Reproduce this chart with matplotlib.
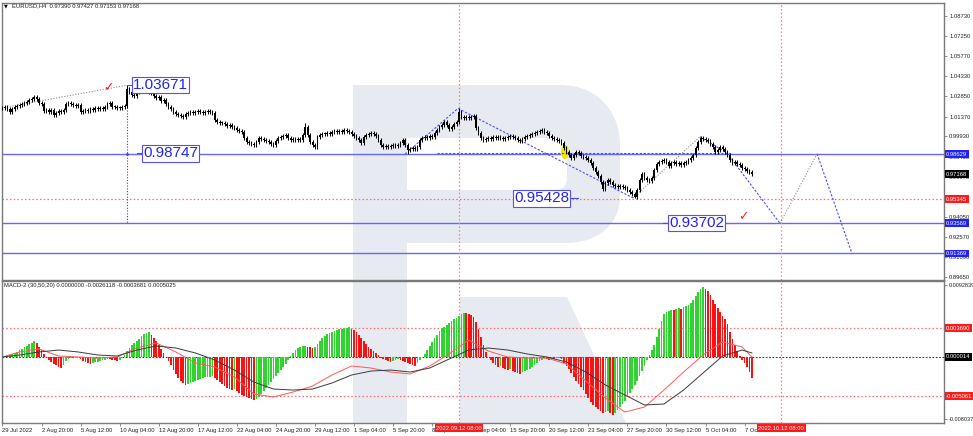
import matplotlib
matplotlib.use('Agg')
import matplotlib.pyplot as plt
import matplotlib.transforms as mtransforms
from matplotlib.patches import PathPatch, Ellipse
from matplotlib.path import Path
import numpy as np

plt.rcParams['font.family'] = ['Liberation Sans', 'DejaVu Sans']

# EURUSD H4 closes, bar 1 = 29 Jul 2022 00:00
closes = [
    1.0200, 1.0208, 1.0193, 1.0171, 1.0193, 1.0208, 1.0215, 1.0222, 1.0230, 1.0237,
    1.0244, 1.0259, 1.0266, 1.0281, 1.0266, 1.0237, 1.0230, 1.0179, 1.0186, 1.0171,
    1.0186, 1.0149, 1.0164, 1.0179, 1.0171, 1.0186, 1.0230, 1.0237, 1.0230, 1.0222,
    1.0215, 1.0222, 1.0171, 1.0179, 1.0186, 1.0179, 1.0193, 1.0186, 1.0200, 1.0193,
    1.0200, 1.0193, 1.0208, 1.0230, 1.0237, 1.0208, 1.0208, 1.0200, 1.0200, 1.0208,
    1.0215, 1.0339, 1.0317, 1.0296, 1.0288, 1.0317, 1.0332, 1.0325, 1.0339, 1.0325,
    1.0317, 1.0310, 1.0288, 1.0274, 1.0281, 1.0252, 1.0259, 1.0230, 1.0208, 1.0193,
    1.0171, 1.0157, 1.0149, 1.0142, 1.0135, 1.0157, 1.0164, 1.0171, 1.0164, 1.0171,
    1.0179, 1.0171, 1.0164, 1.0171, 1.0179, 1.0171, 1.0164, 1.0113, 1.0098, 1.0091,
    1.0091, 1.0084, 1.0069, 1.0076, 1.0062, 1.0054, 1.0040, 1.0032, 1.0025, 0.9981,
    0.9952, 0.9945, 0.9937, 0.9930, 0.9952, 0.9981, 0.9974, 0.9967, 0.9959, 0.9952,
    0.9937, 0.9930, 0.9959, 0.9981, 0.9989, 0.9996, 1.0003, 0.9981, 0.9967, 0.9974,
    0.9967, 0.9974, 0.9967, 1.0003, 1.0062, 1.0003, 0.9952, 0.9930, 0.9916, 0.9989,
    1.0003, 1.0010, 1.0010, 1.0018, 1.0010, 1.0025, 1.0032, 1.0025, 1.0032, 1.0025,
    1.0040, 1.0032, 1.0025, 1.0010, 0.9996, 0.9981, 0.9967, 0.9945, 0.9989, 1.0003,
    1.0010, 1.0018, 1.0010, 0.9996, 0.9967, 0.9930, 0.9916, 0.9923, 0.9916, 0.9923,
    0.9930, 0.9923, 0.9930, 0.9945, 0.9967, 0.9930, 0.9894, 0.9901, 0.9908, 0.9901,
    0.9916, 0.9967, 0.9981, 0.9989, 0.9981, 0.9996, 0.9989, 1.0018, 1.0040, 1.0062,
    1.0076, 1.0098, 1.0076, 1.0047, 1.0062, 1.0084, 1.0098, 1.0171, 1.0135, 1.0127,
    1.0135, 1.0127, 1.0135, 1.0142, 1.0054, 1.0018, 0.9981, 0.9967, 0.9974, 0.9981,
    0.9974, 0.9989, 0.9981, 0.9989, 0.9981, 0.9974, 0.9981, 0.9989, 0.9996, 0.9989,
    0.9981, 0.9967, 0.9959, 0.9974, 0.9989, 0.9996, 1.0003, 1.0010, 1.0018, 1.0025,
    1.0032, 1.0040, 1.0025, 1.0018, 0.9996, 0.9981, 0.9974, 0.9967, 0.9959, 0.9945,
    0.9908, 0.9879, 0.9857, 0.9835, 0.9857, 0.9879, 0.9872, 0.9850, 0.9842, 0.9835,
    0.9820, 0.9798, 0.9762, 0.9733, 0.9703, 0.9660, 0.9608, 0.9652, 0.9674, 0.9660,
    0.9638, 0.9630, 0.9623, 0.9630, 0.9623, 0.9616, 0.9601, 0.9587, 0.9572, 0.9550,
    0.9601, 0.9674, 0.9718, 0.9689, 0.9674, 0.9667, 0.9689, 0.9747, 0.9791, 0.9806,
    0.9813, 0.9820, 0.9806, 0.9777, 0.9798, 0.9806, 0.9791, 0.9798, 0.9784, 0.9798,
    0.9806, 0.9820, 0.9835, 0.9857, 0.9908, 0.9952, 0.9981, 0.9974, 0.9967, 0.9959,
    0.9937, 0.9916, 0.9879, 0.9894, 0.9916, 0.9901, 0.9879, 0.9857, 0.9820, 0.9798,
    0.9806, 0.9791, 0.9784, 0.9762, 0.9755, 0.9740, 0.9733, 0.9717,
]
wick = 0.0012
high_spikes = {52: 1.0367, 125: 1.0091, 188: 1.0197, 287: 0.9995}
low_spikes = {167: 0.9865, 260: 0.95428}

# MACD-2 histogram, units of 1e-4
hist = [
    1.3, 1.3, 2.6, 2.6, 3.9, 5.2, 6.5, 9.0, 10.3, 12.9, 14.2, 16.8, 18.1, 20.6,
    18.1, 12.9, 9.0, 3.9, -1.3, -3.9, -6.5, -9.0, -10.3, -12.9, -14.2, -10.3, -5.2,
    -2.6, -1.3, -1.9, -1.3, -0.6, -2.6, -5.2, -6.5, -7.7, -8.4,
    -7.1, -6.5, -5.8, -5.2, -4.5, -3.9, -2.6, -3.2, -3.9, -4.5, -5.2, -3.9, -1.3,
    2.6, 7.7, 11.6, 15.5, 18.1, 20.6, 23.2, 27.1, 29.7, 31.0, 32.3,
    28.4, 24.5, 20.6, 15.5, 10.3, 5.2, 0.6, -5.2, -10.3, -16.8, -21.9, -27.1, -31.0, -33.5, -36.1,
    -34.8, -33.5, -32.3, -31.0, -29.7, -28.4, -27.1, -26.4, -25.8, -25.2, -24.5,
    -27.1, -29.7, -32.3, -34.8, -37.4, -40.0, -41.3, -42.6, -41.3,
    -43.9, -46.4, -49.0, -50.3, -51.6, -52.9, -54.2, -55.5,
    -54.2, -51.6, -47.7, -43.9, -40.0, -36.1, -32.3, -28.4, -24.5, -20.6, -16.8, -12.9, -9.0, -3.9,
    1.3, 5.2, 9.0, 11.6, 12.9, 14.2, 14.8, 13.5, 12.3, 11.6,
    12.9, 16.8, 20.6, 24.5, 27.1, 29.7, 31.0, 32.3, 33.5, 34.8, 35.5, 36.1, 36.8, 37.4, 38.1,
    36.1, 34.8, 32.3, 28.4, 24.5, 20.6, 16.8, 12.9, 10.3, 7.7, 5.2, 2.6,
    -1.3, -2.6, -3.9, -5.2, -6.5, -5.2, -3.9, -2.6, -3.9, -5.2, -6.5, -7.7, -9.0, -10.3, -11.0,
    -7.7, -3.9, 0.0, 3.9, 9.0, 14.2, 19.4, 24.5, 28.4, 33.5, 37.4,
    38.7, 41.3, 43.9, 46.4, 49.0, 50.3, 52.9, 55.5, 56.8, 56.1, 55.5, 54.2, 51.6,
    45.2, 36.1, 25.8, 15.5, 6.5, 0.0,
    -3.9, -7.7, -10.3, -12.9, -11.6, -14.2, -15.5, -16.8, -15.5, -18.1, -19.4, -20.6, -21.3,
    -19.4, -18.1, -16.8, -15.5, -12.9, -10.3, -7.7, -5.2, -3.9,
    -2.6, -3.2, -3.9, -2.6, -3.2, -1.9, -1.3, -2.6,
    -7.7, -11.6, -15.5, -20.6, -25.8, -31.0, -34.8, -38.7, -42.6, -47.7, -52.9, -58.1, -61.9, -64.5,
    -67.1, -69.7, -72.2, -71.0, -69.7, -72.2, -74.8,
    -72.2, -68.4, -64.5, -60.6, -56.8, -51.6, -46.4, -41.3, -36.1, -31.0, -24.5, -18.1, -11.6, -3.9,
    2.6, 9.0, 15.5, 25.8, 36.1, 46.4, 55.5,
    58.1, 59.3, 60.6, 60.0, 61.9, 62.6, 61.9, 64.5, 65.8, 67.1, 69.7,
    73.5, 78.7, 83.9, 87.7, 90.3,
    87.7, 85.1, 80.0, 73.5, 68.4, 63.2, 58.1, 52.9, 49.0, 42.6, 32.3, 23.2, 15.5, 7.7, 1.3,
    -3.9, -7.7, -12.9, -19.4, -27.1,
]

# MACD lines, units of 1e-4, sampled every 8 bars
line_idx = [1, 8, 16, 24, 32, 40, 48, 56, 64, 72, 80, 88, 96, 104, 112, 120, 128, 136, 144, 152,
            160, 168, 176, 184, 192, 200, 208, 216, 224, 232, 240, 248, 256, 264, 272, 280, 288,
            296, 304, 308]
red_line = [0, 6.5, 10.3, 1.3, 0, -1.3, 0, 11.6, 18.1, 6.5, -7.7, -12.9, -25.8, -47.7, -51.6,
            -45.2, -37.4, -23.2, -11.6, -14.2, -19.4, -21.9, -11.6, 3.9, 21.9, 7.7, 0, -1.3,
            -1.3, -9.0, -31.0, -52.9, -71.0, -64.5, -42.6, -19.4, 2.6, 19.4, 12.9, 0]
black_line = [0, 2.6, 6.5, 9.0, 6.5, 2.6, 1.3, 9.0, 14.2, 11.6, 5.2, -3.9, -16.8, -32.3, -41.3,
              -42.6, -41.3, -33.5, -23.2, -18.1, -16.8, -19.4, -14.2, -2.6, 9.0, 11.6, 9.0, 3.9,
              0, -6.5, -19.4, -36.1, -49.0, -61.9, -60.6, -42.6, -20.6, 1.3, 9.0, 5.2]

# levels
blue_levels = [0.98629, 0.93569, 0.91369]
red_level = 0.95345
last_price = 0.97168
macd_levels = [0.00369, -0.00506]
macd_zero = 0.000014
vlines_idx = [188, 320]
vline_tags = ['2022.09.12 08:00', '2022.10.12 08:00']

price_ticks = [1.0873, 1.0725, 1.0577, 1.0433, 1.0285, 1.0137, 0.9993, 0.9845, 0.9697,
               0.9549, 0.9405, 0.9257, 0.9109, 0.8965]
time_idx = [1, 17, 33, 49, 65, 81, 97, 113, 129, 145, 161, 177, 193, 209, 225, 241, 257, 273, 289, 305]
time_labels = ['29 Jul 2022', '2 Aug 20:00', '5 Aug 12:00', '10 Aug 04:00', '12 Aug 20:00',
               '17 Aug 12:00', '22 Aug 04:00', '24 Aug 20:00', '29 Aug 12:00', '1 Sep 04:00',
               '5 Sep 20:00', '8 Sep 12:00', '13 Sep 04:00', '15 Sep 20:00', '20 Sep 12:00',
               '23 Sep 04:00', '27 Sep 20:00', '30 Sep 12:00', '5 Oct 04:00', '7 Oct 20:00']

# wave markup
gray_segs = [[(2.8, 1.0208), (52, 1.0367)],
             [(259.3, 0.95428), (286.7, 0.9990)],
             [(319.5, 0.9357), (334.7, 0.9865)]]
blue_segs = [[(165.9, 0.9864), (187.6, 1.0197), (259.3, 0.95428)],
             [(286.7, 0.9990), (297.8, 0.9872), (319.5, 0.9357)],
             [(334.7, 0.9865), (349, 0.9137)],
             [(179, 0.9873), (299, 0.9873)]]
value_labels = [('1.03671', 54.5, 1.0367, 'left'), ('0.98747', 58.6, 0.9868, 'left'),
                ('0.95428', 233.1, 0.9540, 'right'), ('0.93702', 274.0, 0.9361, 'left')]
checks = [(44.2, 1.0350), (304.5, 0.9404)]

W, H = 973, 436
fig = plt.figure(figsize=(W / 100, H / 100), dpi=100)
fig.patch.set_facecolor('white')


def px_axes(x0, y0, x1, y1):
    return fig.add_axes([x0 / W, 1 - y1 / H, (x1 - x0) / W, (y1 - y0) / H])


ax1 = px_axes(2, 3, 944, 280)
ax2 = px_axes(2, 281, 944, 423)
for ax in (ax1, ax2):
    ax.set_facecolor('none')
    ax.set_xlim(0.8, 386.7)
    for s in ax.spines.values():
        s.set_color('#7a7a7a')
        s.set_linewidth(1.0)
ax1.set_ylim(0.8943, 1.0968)
ax2.set_ylim(-0.00851, 0.00980)

# watermark "R", drawn in pixel space behind the axes
pix = mtransforms.Affine2D().scale(1 / W, -1 / H).translate(0, 1) + fig.transFigure
M, L, C, Z = Path.MOVETO, Path.LINETO, Path.CURVE4, Path.CLOSEPOLY
verts = [(353, 85), (560, 85), (598, 85), (620, 112), (620, 145), (620, 195),
         (620, 225), (598, 243), (565, 243), (407, 243), (407, 423), (353, 423), (353, 85),
         (407, 138), (407, 190), (555, 190), (563, 190), (567, 185), (567, 178), (567, 150),
         (567, 143), (563, 138), (555, 138), (407, 138)]
codes = [M, L, C, C, C, L, C, C, C, L, L, L, Z,
         M, L, L, C, C, C, L, C, C, C, Z]
wm = '#e7ebf1'
fig.patches.append(PathPatch(Path(verts, codes), fc=wm, ec='none', transform=pix, zorder=-5))
leg = Path([(460, 297), (567, 297), (626, 423), (460, 423), (460, 297)], [M, L, L, L, Z])
fig.patches.append(PathPatch(leg, fc=wm, ec='none', transform=pix, zorder=-5))

# price panel
idx = np.arange(1, len(closes) + 1)
c = np.array(closes)
o = np.concatenate([[c[0]], c[:-1]])
hi = np.maximum(o, c) + wick
lo = np.minimum(o, c) - wick
for k, v in high_spikes.items():
    hi[k - 1] = v
for k, v in low_spikes.items():
    lo[k - 1] = v

for y in blue_levels:
    ax1.axhline(y, color='#6666ff', lw=1.0, zorder=2)
ax1.axhline(red_level, color='#ff6a6a', lw=0.9, ls=(0, (1.2, 1.8)), zorder=2)
for xv in vlines_idx:
    ax1.axvline(xv, color='#ff7a7a', lw=0.9, ls=(0, (1.2, 1.8)), zorder=2)
    ax2.axvline(xv, color='#ff7a7a', lw=0.9, ls=(0, (1.2, 1.8)), zorder=2)

ax1.add_patch(Ellipse((231.4, 0.9879), 3.4, 0.0105, fc='#f2e600', ec='none', zorder=3))

ax1.vlines(idx, lo, hi, color='black', lw=0.75, zorder=4)
body = np.maximum(np.abs(c - o), 0.0005)
ax1.bar(idx, body, bottom=np.minimum(o, c), width=0.7, color='black', lw=0, zorder=4)

ax1.plot([52, 52], [1.0367, 0.9357], color='#3c3cff', lw=0.8, ls=(0, (1, 1.5)), zorder=3)
ax1.plot([52], [0.9864], marker='.', ms=2, color='#3c3cff', zorder=3)
for seg in gray_segs:
    xs, ys = zip(*seg)
    ax1.plot(xs, ys, color='#8c8c8c', lw=0.8, ls=(0, (1, 1.5)), zorder=3)
for seg in blue_segs:
    xs, ys = zip(*seg)
    ax1.plot(xs, ys, color='#4848ff', lw=0.8, ls=(0, (2, 1.5)), zorder=3)

for txt, xv, yv, side in value_labels:
    if side == 'left':
        ax1.plot([xv - 2.4, xv], [yv, yv], color='#4848ff', lw=0.8, zorder=5)
    else:
        ax1.plot([xv, xv + 3.6], [yv, yv], color='#4848ff', lw=0.8, zorder=5)
    ax1.text(xv, yv, txt, ha=side, va='center', fontsize=11, color='#2424f0', zorder=6,
             bbox=dict(boxstyle='square,pad=0.08', fc='white', ec='#5050ff', lw=0.8))
for xv, yv in checks:
    ax1.text(xv, yv, '\u2713', ha='center', va='center', fontsize=9, color='#ff2020',
             family='DejaVu Sans', zorder=6)

ax1.yaxis.tick_right()
ax1.set_yticks(price_ticks)
ax1.set_yticklabels(['%.5f' % p for p in price_ticks])
ax1.tick_params(axis='y', length=2.5, width=0.6, pad=1.2, labelsize=4.2, colors='#7a7a7a',
                labelcolor='#222222')
ax1.set_xticks([])


def tag(ax, y, text, fc):
    ax.text(1.0022, y, text, transform=ax.get_yaxis_transform(), ha='left', va='center',
            fontsize=4.2, color='white', clip_on=False, zorder=10,
            bbox=dict(boxstyle='square,pad=0.25', fc=fc, ec='none'))


tag(ax1, blue_levels[0], '%.5f' % blue_levels[0], '#2020ff')
tag(ax1, last_price, '%.5f' % last_price, 'black')
tag(ax1, red_level, '%.5f' % red_level, '#ff1a1a')
tag(ax1, blue_levels[1], '%.5f' % blue_levels[1], '#2020ff')
tag(ax1, blue_levels[2], '%.5f' % blue_levels[2], '#2020ff')

# MACD panel
hv = np.array(hist) * 1e-4
cols = ['#2fd42f' if k == 0 or hv[k] >= hv[k - 1] else '#ff1010' for k in range(len(hv))]
ax2.bar(idx, hv, width=0.7, color=cols, lw=0, zorder=3)
ax2.axhline(macd_zero, color='#333333', lw=0.8, ls=(0, (1.5, 1.5)), zorder=2)
for y in macd_levels:
    ax2.axhline(y, color='#ff6a6a', lw=0.9, ls=(0, (1.2, 1.8)), zorder=2)
ax2.plot(line_idx, np.array(red_line) * 1e-4, color='#ff5a5a', lw=0.7, zorder=4)
ax2.plot(line_idx, np.array(black_line) * 1e-4, color='#3a3a3a', lw=0.7, zorder=4)

ax2.yaxis.tick_right()
ax2.set_yticks([0.0092839, -0.008037])
ax2.set_yticklabels(['0.0092839', '-0.008037'])
ax2.tick_params(axis='y', length=2.5, width=0.6, pad=1.2, labelsize=4.0, colors='#7a7a7a',
                labelcolor='#222222')
tag(ax2, macd_levels[0], '0.003690', '#ff1a1a')
tag(ax2, macd_zero, '0.000014', 'black')
tag(ax2, macd_levels[1], '-0.005061', '#ff1a1a')

ax2.set_xticks(time_idx)
ax2.set_xticklabels(time_labels)
ax2.tick_params(axis='x', length=2.5, width=0.6, pad=1.0, labelsize=4.2, colors='#7a7a7a',
                labelcolor='#222222')
for lab in ax2.get_xticklabels():
    lab.set_ha('left')
for xv, txt in zip(vlines_idx, vline_tags):
    ax2.text(xv, -0.037, txt, transform=ax2.get_xaxis_transform(), ha='center', va='center',
             fontsize=4.2, color='white', clip_on=False, zorder=10,
             bbox=dict(boxstyle='square,pad=0.25', fc='#ff1a1a', ec='none'))

fig.text(4 / W, 1 - 6 / H, '\u25bc', fontsize=3.5, va='center', ha='left', family='DejaVu Sans')
fig.text(12 / W, 1 - 6 / H, 'EURUSD,H4  0.97390 0.97427 0.97153 0.97168', fontsize=4.2,
         va='center', ha='left', color='#222222')
fig.text(4 / W, 1 - 286 / H, 'MACD-2 (30,50,20) 0.0000000 -0.0026118 -0.0003681 0.0005025',
         fontsize=4.2, va='center', ha='left', color='#222222')

fig.savefig('out.png', dpi=100)
